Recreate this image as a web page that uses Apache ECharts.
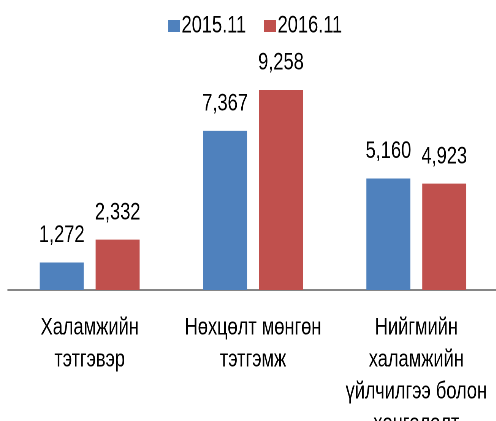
<!DOCTYPE html>
<html>
<head>
<meta charset="utf-8">
<script src="https://cdn.jsdelivr.net/npm/echarts@6/dist/echarts.min.js"></script>
<style>
  html, body { margin: 0; padding: 0; background: #fff; }
  #wrap { width: 496px; height: 421px; overflow: hidden; }
  /* the reference uses a narrow font: draw wider, then squeeze horizontally */
  #chart { width: 653px; height: 421px; transform: scaleX(0.76); transform-origin: 0 0; }
</style>
</head>
<body>
<div id="wrap"><div id="chart"></div></div>
<script>
const categories = [
  'Халамжийн\nтэтгэвэр',
  'Нөхцөлт мөнгөн\nтэтгэмж',
  'Нийгмийн\nхаламжийн\nүйлчилгээ болон\nхөнгөлөлт'
]
const seriesNames = ['2015.11', '2016.11']
const values2015 = [1272, 7367, 5160]
const values2016 = [2332, 9258, 4923]

const font = '"Liberation Sans", Arial, sans-serif'
const sx = 0.76
const dom = echarts.init(document.getElementById('chart'), null, { devicePixelRatio: 2 })

const label = {
  show: true,
  position: 'top',
  distance: 15,
  color: '#000',
  fontFamily: font,
  fontSize: 24,
  formatter: p => p.value.toLocaleString('en-US')
}

const option = {
  animation: false,
  color: ['#4F81BD', '#C0504D'],
  legend: {
    top: 9,
    left: 168 / sx - 5,
    itemWidth: 12 / sx,
    itemHeight: 12,
    itemGap: 18 / sx,
    icon: 'rect',
    textStyle: { fontFamily: font, fontSize: 24, color: '#000', padding: [0, 0, 0, -3] },
    data: seriesNames
  },
  grid: { left: 8 / sx, width: 490 / sx, top: 74, bottom: 131, outerBoundsMode: 'none' },
  xAxis: {
    type: 'category',
    data: categories,
    axisTick: { show: false },
    axisLine: { lineStyle: { color: '#868686', width: 2 } },
    axisLabel: {
      interval: 0,
      margin: 22,
      color: '#000',
      fontFamily: font,
      fontSize: 24,
      lineHeight: 32
    }
  },
  yAxis: {
    type: 'value',
    min: 0,
    max: 10000,
    show: false,
    splitLine: { show: false }
  },
  series: [
    { name: seriesNames[0], type: 'bar', barWidth: 44 / sx, barGap: '27%', data: values2015, label: label },
    { name: seriesNames[1], type: 'bar', barWidth: 44 / sx, barGap: '27%', data: values2016, label: label }
  ]
}
dom.setOption(option)
</script>
</body>
</html>
